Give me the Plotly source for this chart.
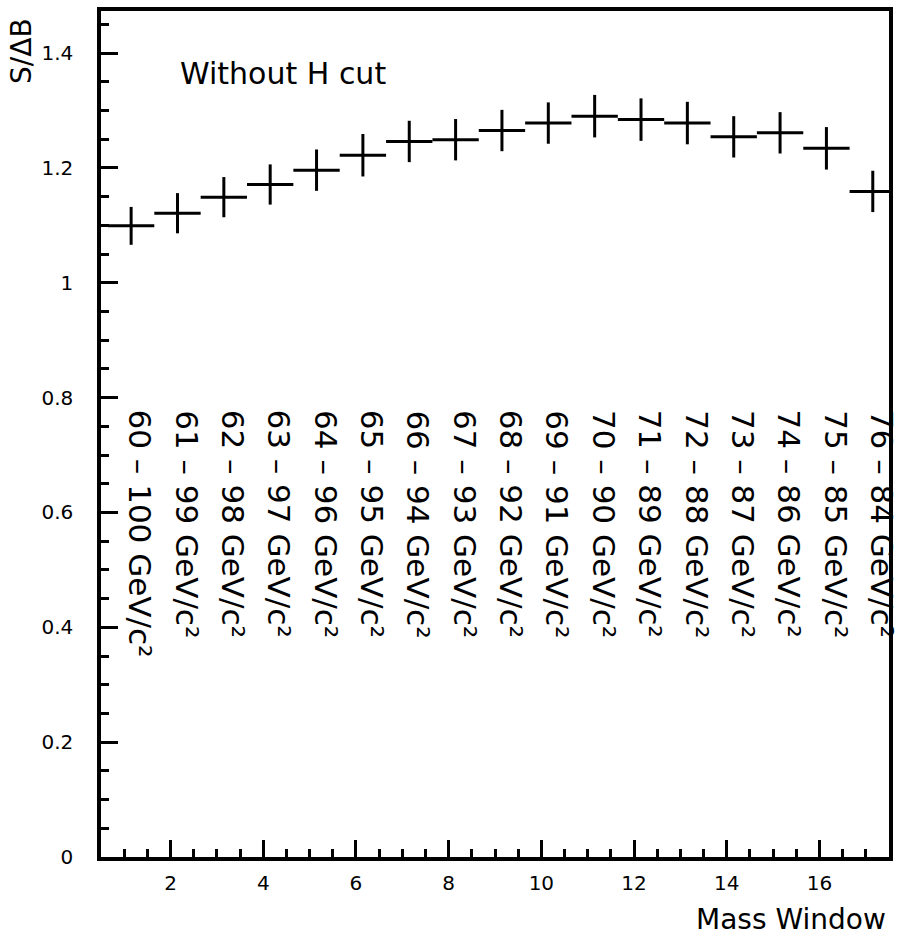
import plotly.graph_objects as go

# Mass window index (bin centres)
x_centers = [1.15, 2.15, 3.15, 4.15, 5.15, 6.15, 7.15, 8.15, 9.15, 10.15,
             11.15, 12.15, 13.15, 14.15, 15.15, 16.15, 17.15]
s_over_db = [1.099, 1.121, 1.149, 1.171, 1.196, 1.222, 1.246, 1.249, 1.265,
             1.278, 1.290, 1.284, 1.278, 1.254, 1.261, 1.234, 1.159]
y_err = [0.033, 0.035, 0.035, 0.035, 0.036, 0.037, 0.036, 0.036, 0.036,
         0.036, 0.037, 0.037, 0.037, 0.036, 0.036, 0.037, 0.036]
x_half = [0.5] * 17
win_lo = [60, 61, 62, 63, 64, 65, 66, 67, 68, 69, 70, 71, 72, 73, 74, 75, 76]
win_hi = [100, 99, 98, 97, 96, 95, 94, 93, 92, 91, 90, 89, 88, 87, 86, 85, 84]

FONT = "DejaVu Sans"

fig = go.Figure()
fig.add_trace(go.Scatter(
    x=x_centers, y=s_over_db, mode="markers",
    marker=dict(size=1, color="black"),
    error_y=dict(type="data", array=y_err, width=0, thickness=3, color="black"),
    error_x=dict(type="data", array=x_half, width=0, thickness=3, color="black"),
    showlegend=False,
))

L, R, T, B = 101, 889, 7, 857
W, H = 900, 941


def px_to_paper(px, py):
    return (px - L) / (R - L), (B - py) / (B - T)


annotations = []
for xc, lo, hi in zip(x_centers, win_lo, win_hi):
    annotations.append(dict(
        x=xc + 0.2, y=0.782, xref="x", yref="y",
        text=f"{lo} – {hi} GeV/c²", textangle=90,
        showarrow=False, xanchor="center", yanchor="top",
        font=dict(family=FONT, size=31, color="black"),
    ))

ax, ay = px_to_paper(178, 70)
annotations.append(dict(
    x=ax, y=ay, xref="paper", yref="paper", text="Without H cut",
    showarrow=False, xanchor="left", yanchor="middle",
    font=dict(family=FONT, size=30, color="black"),
))

sx, sy = px_to_paper(22, 12)
annotations.append(dict(
    x=sx, y=sy, xref="paper", yref="paper", text="S/ΔB", textangle=-90,
    showarrow=False, xanchor="center", yanchor="top",
    font=dict(family=FONT, size=28, color="black"),
))
mx, my = px_to_paper(888, 920)
annotations.append(dict(
    x=mx, y=my, xref="paper", yref="paper", text="Mass Window",
    showarrow=False, xanchor="right", yanchor="middle",
    font=dict(family=FONT, size=28, color="black"),
))

fig.update_layout(
    width=W, height=H,
    margin=dict(l=L, r=W - R, t=T, b=H - B),
    paper_bgcolor="white", plot_bgcolor="white",
    annotations=annotations,
    font=dict(family=FONT, color="black"),
)
fig.update_xaxes(
    range=[0.5, 17.5], tickvals=[2, 4, 6, 8, 10, 12, 14, 16],
    ticks="inside", ticklen=17, tickwidth=3, tickcolor="black",
    showline=True, linewidth=3.5, linecolor="black", mirror=True,
    showgrid=False, zeroline=False,
    tickfont=dict(family=FONT, size=20, color="black"),
    ticklabelstandoff=5,
    minor=dict(dtick=0.5, tick0=0, ticks="inside", ticklen=8,
               tickwidth=3, tickcolor="black", showgrid=False),
)
fig.update_yaxes(
    range=[0, (B - T) / 577.0], dtick=0.2, tick0=0,
    ticks="inside", ticklen=17, tickwidth=3, tickcolor="black",
    showline=True, linewidth=3.5, linecolor="black", mirror=True,
    showgrid=False, zeroline=False,
    tickfont=dict(family=FONT, size=20, color="black"),
    ticklabelstandoff=20,
    minor=dict(dtick=0.05, tick0=0, ticks="inside", ticklen=8,
               tickwidth=3, tickcolor="black", showgrid=False),
)

fig.write_html("out.html")
